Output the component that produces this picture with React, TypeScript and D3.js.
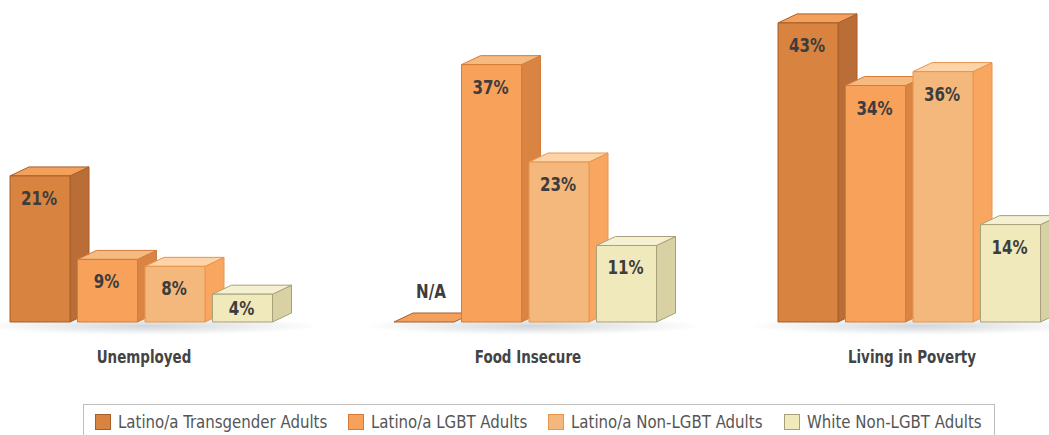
import React from "react";
import * as d3 from "d3";

const categories = ["Unemployed", "Food Insecure", "Living in Poverty"];
const seriesNames = [
  "Latino/a Transgender Adults",
  "Latino/a LGBT Adults",
  "Latino/a Non-LGBT Adults",
  "White Non-LGBT Adults",
];
const transgender: (number | null)[] = [21, null, 43];
const lgbt: (number | null)[] = [9, 37, 34];
const nonLgbt: (number | null)[] = [8, 23, 36];
const whiteNonLgbt: (number | null)[] = [4, 11, 14];
const seriesValues = [transgender, lgbt, nonLgbt, whiteNonLgbt];

const palette = [
  { front: "#D8833F", side: "#BA6D37", top: "#F3A05D", stroke: "#A65E29" },
  { front: "#F8A15B", side: "#DA8443", top: "#F6B980", stroke: "#D27C3B" },
  { front: "#F4B77C", side: "#F8A660", top: "#FDD3A7", stroke: "#E6964F" },
  { front: "#F0E9BC", side: "#D8D1A3", top: "#F5F0D2", stroke: "#A8A07A" },
];

const FONT = "'Liberation Sans Narrow', 'Arial Narrow', 'DejaVu Sans Condensed', sans-serif";

function NarrowText(props: {
  x: number; y: number; sx: number; size: number; bold?: boolean; fill: string;
  anchor?: "start" | "middle" | "end"; children: React.ReactNode;
}) {
  const { x, y, sx, size, bold, fill, anchor, children } = props;
  return (
    <text
      transform={`translate(${x},${y}) scale(${sx},1)`}
      x={0}
      y={0}
      textAnchor={anchor || "start"}
      fontFamily={FONT}
      fontWeight={bold ? "bold" : "normal"}
      fontSize={size}
      fill={fill}
    >
      {children}
    </text>
  );
}

export default function App() {
  const W = 1049;
  const H = 435;
  const baseline = 322;
  const dx = 19;
  const dy = 9;

  const y = d3.scaleLinear().domain([0, 45]).range([baseline, 9]);
  const gx = d3.scaleLinear().domain([0, categories.length - 1]).range([10, 778]);
  const inner = d3.scaleBand<string>().domain(seriesNames).range([0, 262.5]).paddingInner(0.111);
  const bw = inner.bandwidth();

  const bars: React.ReactNode[] = [];
  categories.forEach((cat, ci) => {
    seriesNames.forEach((s, si) => {
      const v = seriesValues[si][ci];
      const x0 = gx(ci) + (inner(s) as number);
      const x1 = x0 + bw;
      const c = palette[si];
      if (v === null) {
        const top = `M${x0},${baseline} L${x0 + dx},${baseline - dy} L${x1 + dx},${baseline - dy} L${x1},${baseline} Z`;
        bars.push(
          <g key={`${ci}-${si}`}>
            <path d={top} fill={c.top} stroke={c.stroke} strokeWidth={1} strokeLinejoin="round" />
            <NarrowText x={(x0 + x1) / 2 + 7} y={baseline - 24} sx={0.84} size={20} bold fill="#3d3d3d" anchor="middle">N/A</NarrowText>
          </g>
        );
        return;
      }
      const yt = y(v);
      const front = `M${x0},${yt} L${x1},${yt} L${x1},${baseline} L${x0},${baseline} Z`;
      const side = `M${x1},${yt} L${x1 + dx},${yt - dy} L${x1 + dx},${baseline - dy} L${x1},${baseline} Z`;
      const topFace = `M${x0},${yt} L${x0 + dx},${yt - dy} L${x1 + dx},${yt - dy} L${x1},${yt} Z`;
      const h = baseline - yt;
      const ly = Math.min(yt + 29, yt + h / 2 + 7);
      bars.push(
        <g key={`${ci}-${si}`}>
          <path d={side} fill={c.side} stroke={c.stroke} strokeWidth={1} strokeLinejoin="round" />
          <path d={topFace} fill={c.top} stroke={c.stroke} strokeWidth={1} strokeLinejoin="round" />
          <path d={front} fill={c.front} stroke={c.stroke} strokeWidth={1} strokeLinejoin="round" />
          <NarrowText x={(x0 + x1) / 2 - 1} y={ly} sx={0.84} size={20} bold fill="#3d3d3d" anchor="middle">{`${v}%`}</NarrowText>
        </g>
      );
    });
  });

  const legendX = [95, 348, 548, 784];

  return (
    <div style={{ position: "fixed", left: 0, top: 0 }}>
      <svg width={W} height={H} style={{ display: "block", background: "#fff" }}>
        <defs>
          <radialGradient id="shadow" cx="50%" cy="50%" r="50%">
            <stop offset="0%" stopColor="#9aa3ad" stopOpacity={0.45} />
            <stop offset="100%" stopColor="#9aa3ad" stopOpacity={0} />
          </radialGradient>
        </defs>
        {categories.map((cat, ci) => (
          <ellipse key={`sh-${ci}`} cx={gx(ci) + 140} cy={baseline + 4} rx={170} ry={9} fill="url(#shadow)" />
        ))}
        {bars}
        {categories.map((cat, ci) => (
          <NarrowText key={cat} x={gx(ci) + 134} y={363} sx={0.88} size={17} bold fill="#444" anchor="middle">{cat}</NarrowText>
        ))}
        <rect x={83.5} y={404.5} width={911} height={40} fill="#fff" stroke="#bdbdbd" strokeWidth={1} />
        {seriesNames.map((s, si) => (
          <g key={s}>
            <rect x={legendX[si] + 0.5} y={414.5} width={15} height={15} fill={palette[si].front} stroke={palette[si].stroke} strokeWidth={1} />
            <NarrowText x={legendX[si] + 23} y={428} sx={0.98} size={17} fill="#555">{s}</NarrowText>
          </g>
        ))}
      </svg>
    </div>
  );
}
